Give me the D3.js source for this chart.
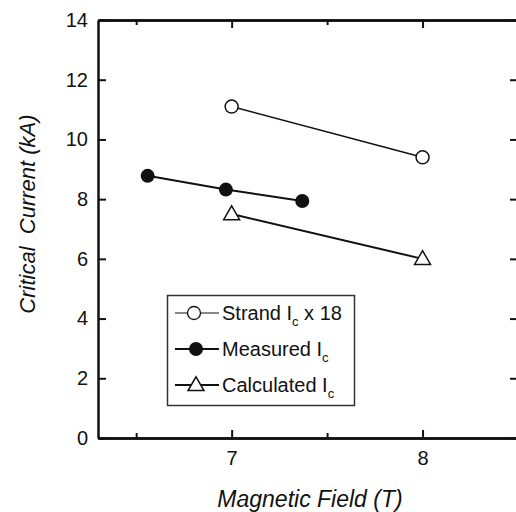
<!DOCTYPE html>
<html><head><meta charset="utf-8">
<script src="https://cdn.jsdelivr.net/npm/d3@7"></script>
<style>
body{margin:0;background:#fff;}
text{font-family:"Liberation Sans",Arial,Helvetica,sans-serif;fill:#111;}
</style></head>
<body><svg id="c" width="516" height="512"></svg>
<script>
const strandField = [7, 8];
const strandIc = [11.1, 9.4];
const measuredField = [6.56, 6.97, 7.37];
const measuredIc = [8.78, 8.32, 7.94];
const calcField = [7, 8];
const calcIc = [7.5, 6.0];
const xMajorTicks = [7, 8];
const xMinorTicks = [6.5, 7.5, 8.5];
const yTicks = [0, 2, 4, 6, 8, 10, 12, 14];

const svg = d3.select("#c");
const x = d3.scaleLinear().domain([6.3, 8.5]).range([98, 518]);
const y = d3.scaleLinear().domain([0, 14]).range([438, 20]);

function styleAxis(g){
  g.select(".domain").attr("stroke","#111").attr("stroke-width",2.5);
  g.selectAll(".tick line").attr("stroke","#111").attr("stroke-width",2);
  g.selectAll(".tick text").style("font-size","20px").attr("fill","#111")
    .style("font-family","'Liberation Sans',Arial,sans-serif");
}
// left axis
svg.append("g").attr("transform","translate(98,0)")
  .call(d3.axisLeft(y).tickValues(yTicks).tickSize(-8).tickPadding(10).tickSizeOuter(0))
  .call(styleAxis);
// right axis
svg.append("g").attr("transform","translate(518,0)")
  .call(d3.axisRight(y).tickValues(yTicks).tickSize(-8).tickFormat("").tickSizeOuter(0))
  .call(styleAxis);
// bottom axis
svg.append("g").attr("transform","translate(0,438)")
  .call(d3.axisBottom(x).tickValues(xMajorTicks).tickSize(-8).tickPadding(13).tickFormat(d3.format("d")).tickSizeOuter(0))
  .call(styleAxis);
svg.append("g").attr("transform","translate(0,438)")
  .call(d3.axisBottom(x).tickValues(xMinorTicks).tickSize(-5).tickFormat("").tickSizeOuter(0))
  .call(styleAxis);
// top axis
svg.append("g").attr("transform","translate(0,20)")
  .call(d3.axisTop(x).tickValues(xMajorTicks).tickSize(-8).tickFormat("").tickSizeOuter(0))
  .call(styleAxis);
svg.append("g").attr("transform","translate(0,20)")
  .call(d3.axisTop(x).tickValues(xMinorTicks).tickSize(-5).tickFormat("").tickSizeOuter(0))
  .call(styleAxis);

// titles
svg.append("text").attr("x",310).attr("y",507).attr("text-anchor","middle")
  .style("font-size","23px").style("font-style","italic").text("Magnetic Field (T)");
svg.append("text").attr("transform","translate(35,214) rotate(-90)").attr("text-anchor","middle")
  .style("font-size","22px").style("font-style","italic").attr("xml:space","preserve")
  .text("Critical  Current (kA)");

const line = d3.line().x(d=>x(d[0])).y(d=>y(d[1]));
const strand = strandField.map((f,i)=>[f,strandIc[i]]);
const meas = measuredField.map((f,i)=>[f,measuredIc[i]]);
const calc = calcField.map((f,i)=>[f,calcIc[i]]);

svg.append("path").datum(strand).attr("d",line).attr("fill","none").attr("stroke","#111").attr("stroke-width",1.5);
svg.append("path").datum(meas).attr("d",line).attr("fill","none").attr("stroke","#111").attr("stroke-width",2);
svg.append("path").datum(calc).attr("d",line).attr("fill","none").attr("stroke","#111").attr("stroke-width",2);

const tri = d3.symbol().type(d3.symbolTriangle).size(110);
svg.selectAll(".so").data(strand).join("circle").attr("cx",d=>x(d[0])).attr("cy",d=>y(d[1])).attr("r",6.5)
  .attr("fill","#fff").attr("stroke","#111").attr("stroke-width",1.5);
svg.selectAll(".mf").data(meas).join("circle").attr("cx",d=>x(d[0])).attr("cy",d=>y(d[1])).attr("r",7)
  .attr("fill","#111");
svg.selectAll(".ct").data(calc).join("path").attr("d",tri)
  .attr("transform",d=>`translate(${x(d[0])},${y(d[1])+1})`)
  .attr("fill","#fff").attr("stroke","#111").attr("stroke-width",1.5);

// legend
const lg = svg.append("g");
lg.append("rect").attr("x",167.5).attr("y",295.5).attr("width",187).attr("height",110)
  .attr("fill","#fff").attr("stroke","#333").attr("stroke-width",1.5);
const rows = [
  {name:"Strand I", sub:"c", tail:" x 18", y:313, w:1, m:"open"},
  {name:"Measured I", sub:"c", tail:"", y:349, w:2, m:"filled"},
  {name:"Calculated I", sub:"c", tail:"", y:385, w:2, m:"tri"}
];
rows.forEach(r=>{
  lg.append("line").attr("x1",175).attr("x2",219).attr("y1",r.y).attr("y2",r.y)
    .attr("stroke","#111").attr("stroke-width",r.w);
  if(r.m==="open") lg.append("circle").attr("cx",194).attr("cy",r.y).attr("r",6.5).attr("fill","#fff").attr("stroke","#111").attr("stroke-width",1.3);
  if(r.m==="filled") lg.append("circle").attr("cx",196).attr("cy",r.y).attr("r",7).attr("fill","#111");
  if(r.m==="tri") lg.append("path").attr("d",tri).attr("transform",`translate(196,${r.y+1})`).attr("fill","#fff").attr("stroke","#111").attr("stroke-width",1.5);
  const t = lg.append("text").attr("x",222).attr("y",r.y+7).style("font-size","20px").attr("xml:space","preserve");
  t.append("tspan").text(r.name);
  t.append("tspan").attr("dy",6).style("font-size","13px").text(r.sub);
  if(r.tail) t.append("tspan").attr("dy",-6).text(r.tail);
});
</script></body></html>
